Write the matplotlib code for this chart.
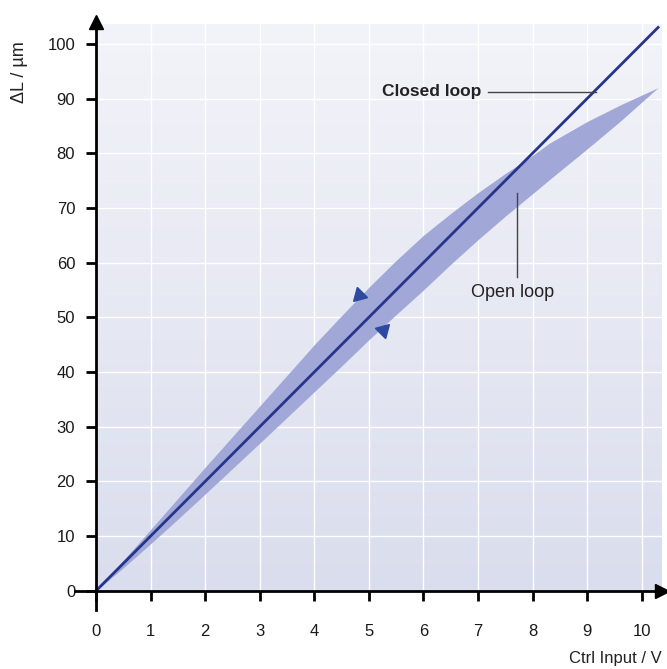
import matplotlib.pyplot as plt
import numpy as np
from matplotlib.colors import LinearSegmentedColormap

# closed loop: straight line
closed_x = [0, 10.3]
closed_y = [0, 103]

# open loop hysteresis band
open_x = [0, 0.5, 1, 1.5, 2, 3, 4, 4.5, 5, 5.5, 6, 6.5, 7, 7.5, 8, 8.3, 9, 9.6, 10.3]
open_up = [0, 5.6, 11.2, 16.9, 22.6, 33.8, 45, 50.3, 55.5, 60.4, 65, 69, 72.8,
           76.3, 79.6, 81.8, 85.8, 88.8, 92]
open_down = [0, 4.2, 8.6, 13.1, 17.7, 27, 36.4, 41.1, 45.9, 50.5, 55, 59.7, 64.2,
             68.5, 72.6, 75.1, 80.8, 85.8, 92]

# direction arrows on the band edges
arrow_x = [4.82, 5.26]
arrow_y = [54.0, 47.6]
arrow_rot = [135, -45]

xticks = list(range(0, 11))
yticks = list(range(0, 101, 10))

plt.rcParams['font.family'] = ['Liberation Sans', 'DejaVu Sans']

fig = plt.figure(figsize=(6.67, 6.69), dpi=100)
ax = fig.add_axes([0.1124, 0.0882, 0.880, 0.879])
ax.set_xlim(-0.385, 10.37)
ax.set_ylim(-3.5, 104)

# background gradient panel
grad = np.linspace(0, 1, 256).reshape(-1, 1)
cmap = LinearSegmentedColormap.from_list('bg', ['#dadded', '#f3f4f9'])
ax.imshow(grad, cmap=cmap, origin='lower', aspect='auto',
          extent=(0, 10.37, 0, 103.5), zorder=0)

ax.set_axisbelow(True)
ax.grid(True, color='white', lw=1.0)

ax.fill_between(open_x, open_down, open_up, color='#a1a8d8', lw=0, zorder=2)
ax.plot(closed_x, closed_y, color='#26358a', lw=2.0, zorder=3)
for x, y, r in zip(arrow_x, arrow_y, arrow_rot):
    ax.plot(x, y, marker=(3, 0, r), ms=12, color='#2e4aa0', zorder=4)

# spines through the origin with arrow heads
for s in ['top', 'right']:
    ax.spines[s].set_visible(False)
for s in ['left', 'bottom']:
    ax.spines[s].set_position(('data', 0))
    ax.spines[s].set_linewidth(2)
    ax.spines[s].set_zorder(5)
ax.plot(1, 0, '>k', ms=10, transform=ax.get_yaxis_transform(), clip_on=False)
ax.plot(0, 1, '^k', ms=10, transform=ax.get_xaxis_transform(), clip_on=False)

ax.set_xticks(xticks)
ax.set_yticks(yticks)
ax.tick_params(axis='both', direction='out', length=7, width=2,
               labelsize=12, colors='black', labelcolor='#1a1a1a')
ax.tick_params(axis='x', pad=17)
ax.tick_params(axis='y', pad=8)

ax.text(10.37, -12.3, 'Ctrl Input / V', ha='right', va='center', fontsize=12,
        color='#222222', clip_on=False)
fig.text(19 / 667, 1 - 72 / 669, '\u0394L / \u00b5m', rotation=90, ha='center',
         va='center', fontsize=13, color='#222222')

# annotations
ax.text(7.07, 91.2, 'Closed loop', ha='right', va='center', fontsize=12.5,
        color='#222222', fontweight='bold')
ax.plot([7.18, 9.17], [91.2, 91.2], color='#444444', lw=1, zorder=4)
ax.text(7.64, 54.5, 'Open loop', ha='center', va='center', fontsize=13,
        color='#222222')
ax.plot([7.71, 7.71], [57.3, 72.8], color='#444444', lw=1, zorder=4)

plt.savefig('out.png', dpi=100)
